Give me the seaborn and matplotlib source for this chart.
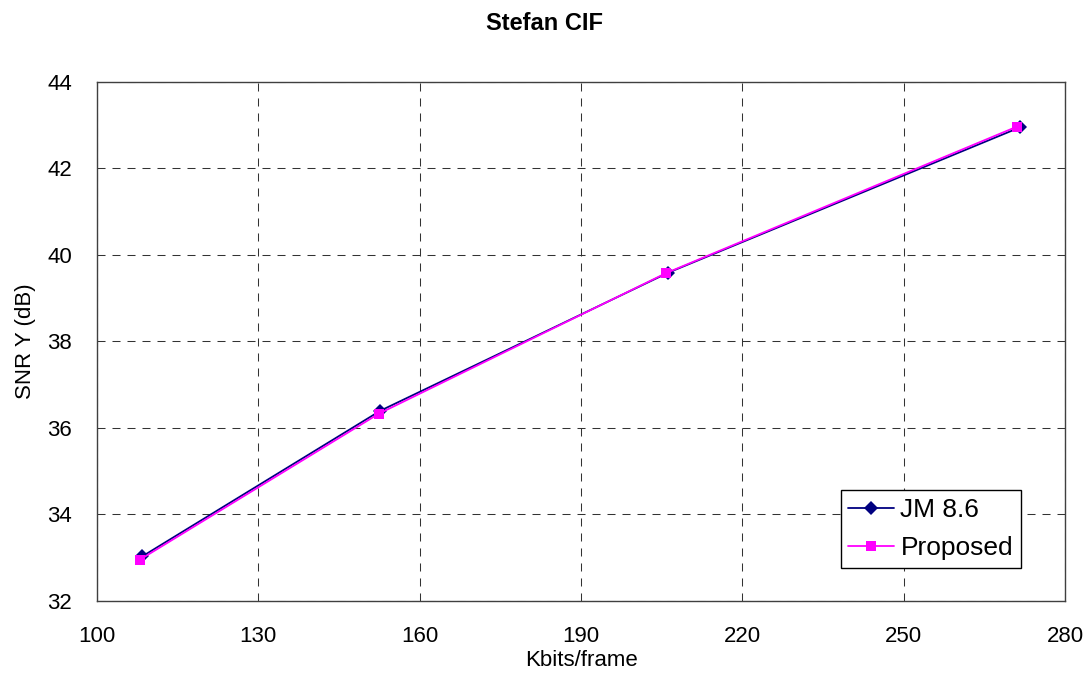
import numpy as np
import pandas as pd
import seaborn as sns
import matplotlib.pyplot as plt

# valores
series = ["JM 8.6", "Proposed"]
jm_rate = [108.4, 152.7, 206.2, 271.6]
jm_snr = [33.03, 36.40, 39.59, 42.95]
prop_rate = [107.9, 152.4, 205.8, 271.1]
prop_snr = [32.95, 36.33, 39.58, 42.97]
x_ticks = [100, 130, 160, 190, 220, 250, 280]
y_ticks = [32, 34, 36, 38, 40, 42, 44]

df = pd.DataFrame({
    "rate": jm_rate + prop_rate,
    "snr": jm_snr + prop_snr,
    "serie": [series[0]] * len(jm_rate) + [series[1]] * len(prop_rate),
})

sns.set_style("white")
plt.rcParams["font.family"] = ["Liberation Sans", "DejaVu Sans"]
for k in ["text.color", "axes.labelcolor", "xtick.color", "ytick.color"]:
    plt.rcParams[k] = "black"

fig = plt.figure(figsize=(10.89, 6.77), dpi=100)
ax = fig.add_axes([0.0891, 0.1123, 0.8889, 0.7666])

sns.lineplot(
    data=df, x="rate", y="snr", hue="serie", style="serie",
    palette={"JM 8.6": "#000080", "Proposed": "#FF00FF"},
    markers={"JM 8.6": "D", "Proposed": "s"},
    dashes=False, markersize=7, linewidth=1.3,
    markeredgewidth=0, ax=ax, sort=False,
)

ax.set_xlim(100, 280)
ax.set_ylim(32, 44)
ax.set_xticks(x_ticks)
ax.set_yticks(y_ticks)
ax.tick_params(axis="y", labelsize=16, length=0, pad=18)
ax.tick_params(axis="x", labelsize=16, length=0, pad=18)
ax.grid(True, color="#333333", linestyle=(0, (7.7, 6.7)), linewidth=0.75)
for s in ax.spines.values():
    s.set_color("#404040")
    s.set_linewidth(1)

ax.set_xlabel("Kbits/frame", fontsize=16, labelpad=2)
ax.set_ylabel("SNR Y (dB)", fontsize=16, labelpad=8)
fig.suptitle("Stefan CIF", fontsize=17, fontweight="bold", y=0.982)

leg = ax.legend(
    loc="lower right", bbox_to_anchor=(0.9545, 0.0636), fontsize=19,
    frameon=True, fancybox=False, edgecolor="black", framealpha=1,
    handlelength=1.74, handletextpad=0.23, borderpad=0.3, labelspacing=0.52,
    borderaxespad=0,
)
leg.get_frame().set_linewidth(1)

fig.savefig("out.png", dpi=100)
